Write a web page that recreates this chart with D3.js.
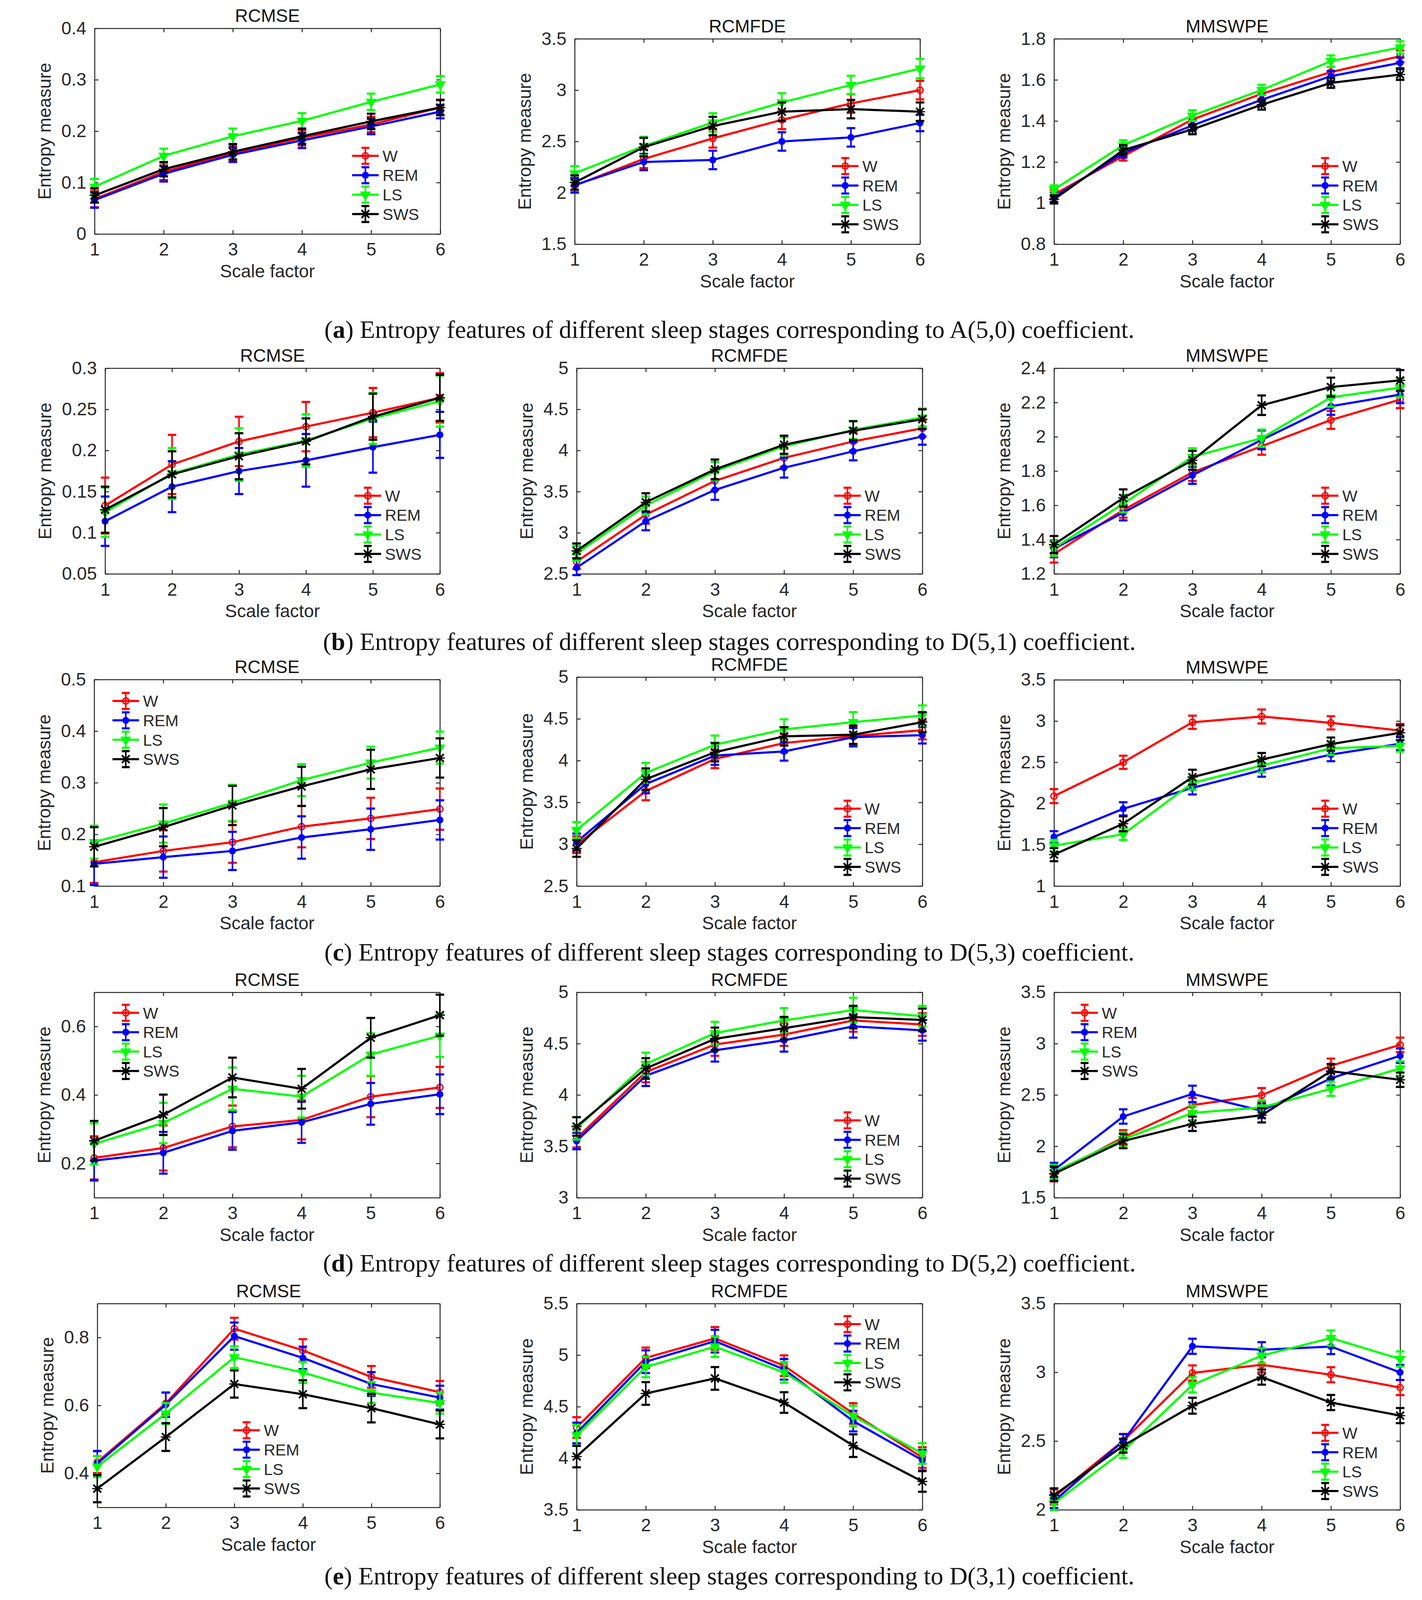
<!DOCTYPE html>
<html>
<head>
<meta charset="utf-8">
<script src="https://cdn.jsdelivr.net/npm/d3@7"></script>
<style>
  html, body { margin: 0; padding: 0; background: #fff; overflow: hidden; }
  svg { display: block; }
</style>
</head>
<body>
<div id="chart"></div>
<script>
// ---- data ----
const stages = ["W", "REM", "LS", "SWS"];
const scaleFactors = [1, 2, 3, 4, 5, 6];
const methods = ["RCMSE", "RCMFDE", "MMSWPE"];
const yLabel = "Entropy measure";
const xLabel = "Scale factor";

const captionLetters = ["a", "b", "c", "d", "e"];
const captionTexts = [
  ") Entropy features of different sleep stages corresponding to A(5,0) coefficient.",
  ") Entropy features of different sleep stages corresponding to D(5,1) coefficient.",
  ") Entropy features of different sleep stages corresponding to D(5,3) coefficient.",
  ") Entropy features of different sleep stages corresponding to D(5,2) coefficient.",
  ") Entropy features of different sleep stages corresponding to D(3,1) coefficient."
];

// rows of series are W, REM, LS, SWS
const a_rcmse_mean = [
  [0.068, 0.121, 0.157, 0.187, 0.213, 0.246],
  [0.066, 0.117, 0.154, 0.182, 0.209, 0.238],
  [0.092, 0.152, 0.190, 0.220, 0.257, 0.291],
  [0.075, 0.126, 0.160, 0.190, 0.219, 0.246]];
const a_rcmse_err = [
  [0.016, 0.016, 0.015, 0.015, 0.015, 0.014],
  [0.015, 0.015, 0.014, 0.015, 0.015, 0.013],
  [0.015, 0.014, 0.015, 0.015, 0.016, 0.016],
  [0.014, 0.014, 0.015, 0.015, 0.015, 0.015]];
const a_rcmse_domain = [0, 0.4];
const a_rcmse_ticks = [0, 0.1, 0.2, 0.3, 0.4];

const a_rcmfde_mean = [
  [2.07, 2.33, 2.53, 2.71, 2.87, 3.00],
  [2.075, 2.30, 2.32, 2.50, 2.54, 2.68],
  [2.19, 2.455, 2.685, 2.88, 3.05, 3.21],
  [2.10, 2.445, 2.65, 2.79, 2.815, 2.79]];
const a_rcmfde_err = [
  [0.07, 0.09, 0.09, 0.09, 0.09, 0.09],
  [0.07, 0.08, 0.09, 0.09, 0.09, 0.08],
  [0.07, 0.09, 0.09, 0.09, 0.09, 0.095],
  [0.07, 0.09, 0.09, 0.09, 0.09, 0.09]];
const a_rcmfde_domain = [1.5, 3.5];
const a_rcmfde_ticks = [1.5, 2, 2.5, 3, 3.5];

const a_mmswpe_mean = [
  [1.042, 1.229, 1.407, 1.532, 1.638, 1.715],
  [1.028, 1.244, 1.378, 1.503, 1.618, 1.683],
  [1.066, 1.282, 1.426, 1.551, 1.691, 1.758],
  [1.018, 1.258, 1.359, 1.479, 1.585, 1.626]];
const a_mmswpe_err = [
  [0.022, 0.022, 0.025, 0.025, 0.025, 0.028],
  [0.022, 0.022, 0.024, 0.025, 0.025, 0.026],
  [0.020, 0.024, 0.026, 0.025, 0.028, 0.030],
  [0.020, 0.024, 0.024, 0.024, 0.024, 0.026]];
const a_mmswpe_domain = [0.8, 1.8];
const a_mmswpe_ticks = [0.8, 1, 1.2, 1.4, 1.6, 1.8];

const b_rcmse_mean = [
  [0.133, 0.183, 0.211, 0.229, 0.246, 0.264],
  [0.114, 0.156, 0.175, 0.188, 0.204, 0.219],
  [0.125, 0.172, 0.195, 0.212, 0.239, 0.260],
  [0.128, 0.171, 0.193, 0.211, 0.241, 0.264]];
const b_rcmse_err = [
  [0.034, 0.036, 0.030, 0.030, 0.030, 0.030],
  [0.030, 0.031, 0.028, 0.032, 0.031, 0.028],
  [0.030, 0.031, 0.032, 0.032, 0.031, 0.031],
  [0.028, 0.028, 0.028, 0.028, 0.028, 0.028]];
const b_rcmse_domain = [0.05, 0.3];
const b_rcmse_ticks = [0.05, 0.1, 0.15, 0.2, 0.25, 0.3];

const b_rcmfde_mean = [
  [2.65, 3.22, 3.63, 3.91, 4.11, 4.27],
  [2.575, 3.14, 3.52, 3.79, 3.99, 4.17],
  [2.75, 3.33, 3.75, 4.05, 4.25, 4.40],
  [2.78, 3.37, 3.77, 4.07, 4.24, 4.38]];
const b_rcmfde_err = [
  [0.09, 0.11, 0.11, 0.11, 0.11, 0.10],
  [0.09, 0.11, 0.12, 0.12, 0.11, 0.10],
  [0.09, 0.11, 0.11, 0.11, 0.11, 0.11],
  [0.09, 0.11, 0.12, 0.11, 0.115, 0.12]];
const b_rcmfde_domain = [2.5, 5];
const b_rcmfde_ticks = [2.5, 3, 3.5, 4, 4.5, 5];

const b_mmswpe_mean = [
  [1.316, 1.573, 1.792, 1.945, 2.098, 2.217],
  [1.347, 1.557, 1.775, 1.982, 2.178, 2.246],
  [1.350, 1.609, 1.883, 1.992, 2.230, 2.287],
  [1.371, 1.643, 1.863, 2.184, 2.290, 2.329]];
const b_mmswpe_err = [
  [0.050, 0.045, 0.050, 0.050, 0.052, 0.050],
  [0.050, 0.045, 0.050, 0.055, 0.050, 0.050],
  [0.045, 0.050, 0.050, 0.050, 0.055, 0.055],
  [0.050, 0.050, 0.055, 0.057, 0.055, 0.060]];
const b_mmswpe_domain = [1.2, 2.4];
const b_mmswpe_ticks = [1.2, 1.4, 1.6, 1.8, 2, 2.2, 2.4];

const c_rcmse_mean = [
  [0.146, 0.168, 0.185, 0.215, 0.231, 0.249],
  [0.143, 0.156, 0.168, 0.194, 0.210, 0.228],
  [0.185, 0.221, 0.261, 0.305, 0.339, 0.368],
  [0.176, 0.214, 0.256, 0.293, 0.326, 0.348]];
const c_rcmse_err = [
  [0.040, 0.040, 0.040, 0.040, 0.040, 0.040],
  [0.041, 0.040, 0.037, 0.041, 0.040, 0.038],
  [0.032, 0.037, 0.035, 0.031, 0.031, 0.031],
  [0.038, 0.037, 0.038, 0.038, 0.038, 0.038]];
const c_rcmse_domain = [0.1, 0.5];
const c_rcmse_ticks = [0.1, 0.2, 0.3, 0.4, 0.5];

const c_rcmfde_mean = [
  [2.995, 3.636, 4.02, 4.21, 4.294, 4.364],
  [3.028, 3.72, 4.06, 4.11, 4.28, 4.305],
  [3.17, 3.853, 4.19, 4.374, 4.46, 4.54],
  [2.95, 3.777, 4.10, 4.29, 4.31, 4.46]];
const c_rcmfde_err = [
  [0.10, 0.11, 0.11, 0.11, 0.11, 0.11],
  [0.10, 0.11, 0.11, 0.11, 0.11, 0.10],
  [0.095, 0.12, 0.11, 0.12, 0.12, 0.12],
  [0.10, 0.13, 0.11, 0.11, 0.11, 0.12]];
const c_rcmfde_domain = [2.5, 5];
const c_rcmfde_ticks = [2.5, 3, 3.5, 4, 4.5, 5];

const c_mmswpe_mean = [
  [2.09, 2.50, 2.985, 3.055, 2.978, 2.885],
  [1.595, 1.936, 2.19, 2.405, 2.593, 2.725],
  [1.49, 1.628, 2.25, 2.46, 2.67, 2.70],
  [1.381, 1.755, 2.32, 2.533, 2.72, 2.857]];
const c_mmswpe_err = [
  [0.085, 0.08, 0.08, 0.085, 0.08, 0.08],
  [0.07, 0.08, 0.08, 0.08, 0.08, 0.08],
  [0.07, 0.07, 0.08, 0.08, 0.08, 0.07],
  [0.08, 0.09, 0.09, 0.08, 0.08, 0.09]];
const c_mmswpe_domain = [1, 3.5];
const c_mmswpe_ticks = [1, 1.5, 2, 2.5, 3, 3.5];

const d_rcmse_mean = [
  [0.216, 0.245, 0.308, 0.327, 0.395, 0.422],
  [0.208, 0.231, 0.295, 0.320, 0.374, 0.402],
  [0.257, 0.318, 0.418, 0.395, 0.518, 0.573],
  [0.266, 0.342, 0.451, 0.418, 0.567, 0.633]];
const d_rcmse_err = [
  [0.063, 0.066, 0.061, 0.057, 0.060, 0.060],
  [0.058, 0.061, 0.055, 0.060, 0.061, 0.058],
  [0.060, 0.059, 0.062, 0.061, 0.062, 0.062],
  [0.058, 0.059, 0.058, 0.058, 0.058, 0.060]];
const d_rcmse_domain = [0.1, 0.7];
const d_rcmse_ticks = [0.2, 0.4, 0.6];

const d_rcmfde_mean = [
  [3.578, 4.223, 4.491, 4.588, 4.726, 4.686],
  [3.551, 4.187, 4.435, 4.532, 4.668, 4.629],
  [3.675, 4.302, 4.602, 4.726, 4.827, 4.767],
  [3.693, 4.258, 4.546, 4.650, 4.758, 4.731]];
const d_rcmfde_err = [
  [0.09, 0.10, 0.11, 0.11, 0.11, 0.11],
  [0.08, 0.10, 0.11, 0.11, 0.11, 0.10],
  [0.11, 0.11, 0.11, 0.12, 0.12, 0.10],
  [0.09, 0.10, 0.11, 0.11, 0.11, 0.11]];
const d_rcmfde_domain = [3, 5];
const d_rcmfde_ticks = [3, 3.5, 4, 4.5, 5];

const d_mmswpe_mean = [
  [1.728, 2.087, 2.401, 2.497, 2.784, 2.988],
  [1.769, 2.290, 2.510, 2.346, 2.661, 2.882],
  [1.751, 2.069, 2.325, 2.378, 2.560, 2.758],
  [1.733, 2.051, 2.219, 2.302, 2.731, 2.648]];
const d_mmswpe_err = [
  [0.07, 0.07, 0.07, 0.07, 0.07, 0.07],
  [0.07, 0.07, 0.08, 0.07, 0.07, 0.07],
  [0.07, 0.07, 0.07, 0.07, 0.07, 0.07],
  [0.07, 0.07, 0.07, 0.07, 0.07, 0.07]];
const d_mmswpe_domain = [1.5, 3.5];
const d_mmswpe_ticks = [1.5, 2, 2.5, 3, 3.5];

const e_rcmse_mean = [
  [0.433, 0.606, 0.826, 0.762, 0.684, 0.639],
  [0.429, 0.602, 0.804, 0.740, 0.663, 0.623],
  [0.420, 0.576, 0.742, 0.697, 0.638, 0.607],
  [0.355, 0.507, 0.663, 0.633, 0.592, 0.544]];
const e_rcmse_err = [
  [0.032, 0.032, 0.032, 0.033, 0.032, 0.033],
  [0.037, 0.036, 0.040, 0.033, 0.035, 0.035],
  [0.031, 0.031, 0.032, 0.031, 0.031, 0.031],
  [0.040, 0.041, 0.040, 0.041, 0.042, 0.041]];
const e_rcmse_domain = [0.3, 0.9];
const e_rcmse_ticks = [0.4, 0.6, 0.8];

const e_rcmfde_mean = [
  [4.298, 4.973, 5.162, 4.897, 4.434, 4.007],
  [4.245, 4.936, 5.135, 4.862, 4.360, 3.981],
  [4.222, 4.885, 5.082, 4.832, 4.409, 4.046],
  [4.016, 4.628, 4.774, 4.540, 4.122, 3.775]];
const e_rcmfde_err = [
  [0.10, 0.10, 0.11, 0.10, 0.10, 0.10],
  [0.10, 0.11, 0.11, 0.10, 0.10, 0.10],
  [0.10, 0.10, 0.10, 0.10, 0.10, 0.10],
  [0.104, 0.11, 0.11, 0.10, 0.11, 0.10]];
const e_rcmfde_domain = [3.5, 5.5];
const e_rcmfde_ticks = [3.5, 4, 4.5, 5, 5.5];

const e_mmswpe_mean = [
  [2.093, 2.502, 2.995, 3.055, 2.982, 2.889],
  [2.063, 2.500, 3.189, 3.164, 3.187, 2.999],
  [2.048, 2.427, 2.909, 3.121, 3.249, 3.097],
  [2.106, 2.466, 2.757, 2.965, 2.780, 2.685]];
const e_mmswpe_err = [
  [0.055, 0.05, 0.055, 0.055, 0.055, 0.055],
  [0.05, 0.05, 0.055, 0.055, 0.055, 0.055],
  [0.05, 0.05, 0.055, 0.055, 0.055, 0.055],
  [0.05, 0.05, 0.058, 0.055, 0.055, 0.055]];
const e_mmswpe_domain = [2, 3.5];
const e_mmswpe_ticks = [2, 2.5, 3, 3.5];

// ---- styles / layout ----
const colors = ["#ff0000", "#0000ff", "#00ff00", "#000000"];
const axisColor = "#262626";
const fontSans = "'Liberation Sans', Arial, Helvetica, sans-serif";
const fontSerif = "'Liberation Serif', 'Times New Roman', serif";
const axisFont = 46;

// the figure is laid out for 3640 x 5197; the browser window may be shorter,
// so every vertical position is squeezed to fit what is really visible
const FIG_W = 3640, FIG_H = 5197;
const viewH = Math.min(FIG_H, window.innerHeight || FIG_H);
const ky = viewH / FIG_H;
const Y = v => v * ky;

const panels = [
  { mean: a_rcmse_mean, err: a_rcmse_err, domain: a_rcmse_domain, ticks: a_rcmse_ticks, title: methods[0], box: [242, 92, 1127, 760], leg: [0.745, 0.62] },
  { mean: a_rcmfde_mean, err: a_rcmfde_err, domain: a_rcmfde_domain, ticks: a_rcmfde_ticks, title: methods[1], box: [1471, 126, 2355, 793], leg: [0.745, 0.62] },
  { mean: a_mmswpe_mean, err: a_mmswpe_err, domain: a_mmswpe_domain, ticks: a_mmswpe_ticks, title: methods[2], box: [2698, 126, 3584, 793], leg: [0.745, 0.62] },

  { mean: b_rcmse_mean, err: b_rcmse_err, domain: b_rcmse_domain, ticks: b_rcmse_ticks, title: methods[0], box: [269, 1196, 1126, 1864], leg: [0.745, 0.62] },
  { mean: b_rcmfde_mean, err: b_rcmfde_err, domain: b_rcmfde_domain, ticks: b_rcmfde_ticks, title: methods[1], box: [1476, 1196, 2361, 1864], leg: [0.745, 0.62] },
  { mean: b_mmswpe_mean, err: b_mmswpe_err, domain: b_mmswpe_domain, ticks: b_mmswpe_ticks, title: methods[2], box: [2698, 1196, 3584, 1864], leg: [0.745, 0.62] },

  { mean: c_rcmse_mean, err: c_rcmse_err, domain: c_rcmse_domain, ticks: c_rcmse_ticks, title: methods[0], box: [241, 2207, 1126, 2878], leg: [0.053, 0.104] },
  { mean: c_rcmfde_mean, err: c_rcmfde_err, domain: c_rcmfde_domain, ticks: c_rcmfde_ticks, title: methods[1], box: [1476, 2199, 2361, 2878], leg: [0.745, 0.63] },
  { mean: c_mmswpe_mean, err: c_mmswpe_err, domain: c_mmswpe_domain, ticks: c_mmswpe_ticks, title: methods[2], box: [2698, 2208, 3584, 2878], leg: [0.745, 0.625] },

  { mean: d_rcmse_mean, err: d_rcmse_err, domain: d_rcmse_domain, ticks: d_rcmse_ticks, title: methods[0], box: [241, 3223, 1126, 3890], leg: [0.053, 0.1] },
  { mean: d_rcmfde_mean, err: d_rcmfde_err, domain: d_rcmfde_domain, ticks: d_rcmfde_ticks, title: methods[1], box: [1476, 3223, 2361, 3890], leg: [0.745, 0.624] },
  { mean: d_mmswpe_mean, err: d_mmswpe_err, domain: d_mmswpe_domain, ticks: d_mmswpe_ticks, title: methods[2], box: [2698, 3223, 3584, 3890], leg: [0.05, 0.1] },

  { mean: e_rcmse_mean, err: e_rcmse_err, domain: e_rcmse_domain, ticks: e_rcmse_ticks, title: methods[0], box: [249, 4234, 1126, 4896], leg: [0.397, 0.622] },
  { mean: e_rcmfde_mean, err: e_rcmfde_err, domain: e_rcmfde_domain, ticks: e_rcmfde_ticks, title: methods[1], box: [1476, 4234, 2361, 4904], leg: [0.745, 0.1] },
  { mean: e_mmswpe_mean, err: e_mmswpe_err, domain: e_mmswpe_domain, ticks: e_mmswpe_ticks, title: methods[2], box: [2698, 4234, 3584, 4904], leg: [0.745, 0.627] }
];

const captionY = [1088, 2101, 3110, 4120, 5136];

const svg = d3.select("#chart")
  .append("svg")
  .attr("width", FIG_W)
  .attr("height", viewH)
  .style("background", "#fff");

const fmt = v => String(+v.toFixed(2));

// marker per stage: W 'o', REM filled dot, LS 'v', SWS '*'
function drawMarker(g, i, cx, cy) {
  const c = colors[i];
  if (i === 0) {
    g.append("circle").attr("cx", cx).attr("cy", cy).attr("r", 8)
      .attr("fill", "none").attr("stroke", c).attr("stroke-width", 3.5);
  } else if (i === 1) {
    g.append("circle").attr("cx", cx).attr("cy", cy).attr("r", 8)
      .attr("fill", c).attr("stroke", c).attr("stroke-width", 2);
  } else if (i === 2) {
    g.append("path")
      .attr("d", d3.symbol(d3.symbolTriangle, 220)())
      .attr("transform", `translate(${cx},${cy}) rotate(180)`)
      .attr("fill", c).attr("stroke", c).attr("stroke-width", 3);
  } else {
    g.append("path")
      .attr("d", d3.symbol(d3.symbolTimes, 260)())
      .attr("transform", `translate(${cx},${cy})`)
      .attr("fill", "none").attr("stroke", c).attr("stroke-width", 4.5);
    g.append("path")
      .attr("d", d3.symbol(d3.symbolPlus, 220)())
      .attr("transform", `translate(${cx},${cy})`)
      .attr("fill", "none").attr("stroke", c).attr("stroke-width", 3);
  }
}

function drawErrorBar(g, color, cx, yTop, yBot, cap, w) {
  g.append("line").attr("x1", cx).attr("x2", cx).attr("y1", yTop).attr("y2", yBot)
    .attr("stroke", color).attr("stroke-width", w);
  [yTop, yBot].forEach(yy => {
    g.append("line").attr("x1", cx - cap / 2).attr("x2", cx + cap / 2).attr("y1", yy).attr("y2", yy)
      .attr("stroke", color).attr("stroke-width", 5.5);
  });
}

function styleAxis(g) {
  g.select(".domain").attr("stroke", axisColor).attr("stroke-width", 2.5);
  g.selectAll(".tick line").attr("stroke", axisColor).attr("stroke-width", 2.5);
  g.selectAll(".tick text")
    .attr("fill", axisColor)
    .style("font-family", fontSans)
    .style("font-size", axisFont + "px");
}

function drawPanel(p) {
  const x0 = p.box[0], x1 = p.box[2];
  const y0 = Y(p.box[1]), y1 = Y(p.box[3]);
  const x = d3.scaleLinear().domain([1, 6]).range([x0, x1]);
  const y = d3.scaleLinear().domain(p.domain).range([y1, y0]);

  const g = svg.append("g");

  // axes (ticks inside, box on)
  g.append("g").attr("transform", `translate(0,${y1})`)
    .call(d3.axisBottom(x).tickValues(scaleFactors).tickSize(-10).tickSizeOuter(0).tickPadding(Y(72) - 34).tickFormat(d3.format("d")))
    .call(styleAxis);
  g.append("g").attr("transform", `translate(0,${y0})`)
    .call(d3.axisTop(x).tickValues(scaleFactors).tickSize(-10).tickSizeOuter(0))
    .call(styleAxis)
    .call(a => a.selectAll(".tick text").remove());
  const left = g.append("g").attr("transform", `translate(${x0},0)`)
    .call(d3.axisLeft(y).tickValues(p.ticks).tickSize(-10).tickSizeOuter(0).tickPadding(21).tickFormat(fmt))
    .call(styleAxis);
  g.append("g").attr("transform", `translate(${x1},0)`)
    .call(d3.axisRight(y).tickValues(p.ticks).tickSize(-10).tickSizeOuter(0))
    .call(styleAxis)
    .call(a => a.selectAll(".tick text").remove());

  // widest y tick label decides where the y label sits
  const maxW = d3.max(left.selectAll(".tick text").nodes(), n => n.getComputedTextLength()) || 70;

  // title and axis labels
  g.append("text")
    .attr("x", (x0 + x1) / 2).attr("y", y0 - Y(41) + 16)
    .attr("text-anchor", "middle")
    .style("font-family", fontSans).style("font-size", axisFont + "px")
    .attr("fill", "#111")
    .text(p.title);
  g.append("text")
    .attr("x", (x0 + x1) / 2).attr("y", y1 + Y(128) + 10)
    .attr("text-anchor", "middle")
    .style("font-family", fontSans).style("font-size", axisFont + "px")
    .attr("fill", axisColor)
    .text(xLabel);
  g.append("text")
    .attr("transform", `translate(${x0 - maxW - 48},${(y0 + y1) / 2}) rotate(-90)`)
    .attr("text-anchor", "middle")
    .style("font-family", fontSans).style("font-size", axisFont + "px")
    .attr("fill", axisColor)
    .text(yLabel);

  // series
  const line = d3.line()
    .x((d, j) => x(scaleFactors[j]))
    .y(d => y(d));

  p.mean.forEach((vals, i) => {
    const sg = g.append("g");
    vals.forEach((v, j) => {
      const e = p.err[i][j];
      drawErrorBar(sg, colors[i], x(scaleFactors[j]), y(v + e), y(v - e), 22, 4);
    });
    sg.append("path")
      .datum(vals)
      .attr("d", line)
      .attr("fill", "none")
      .attr("stroke", colors[i])
      .attr("stroke-width", 5.5)
      .attr("stroke-linejoin", "round");
    vals.forEach((v, j) => drawMarker(sg, i, x(scaleFactors[j]), y(v)));
  });

  // legend
  const lx = x0 + p.leg[0] * (x1 - x0);
  const ly = y0 + p.leg[1] * (y1 - y0);
  const step = Y(63);
  const legend = g.selectAll(".legend")
    .data(stages)
    .enter()
    .append("g")
    .attr("class", "legend")
    .attr("transform", (d, i) => `translate(${lx},${ly + i * step})`);

  legend.each(function (d, i) {
    const lg = d3.select(this);
    drawErrorBar(lg, colors[i], 34, -Y(26), Y(26), 20, 4);
    lg.append("line").attr("x1", 0).attr("x2", 68).attr("y1", 0).attr("y2", 0)
      .attr("stroke", colors[i]).attr("stroke-width", 5.5);
    drawMarker(lg, i, 34, 0);
    lg.append("text")
      .attr("x", 78).attr("y", 0).attr("dy", "0.36em")
      .style("font-family", fontSans).style("font-size", "41px")
      .attr("fill", axisColor)
      .text(d);
  });
}

panels.forEach(drawPanel);

// captions, fitted to the measured line width
captionLetters.forEach((letter, k) => {
  const t = svg.append("text")
    .attr("x", 1867)
    .attr("y", Y(captionY[k] - 18) + 22)
    .attr("text-anchor", "middle")
    .style("font-family", fontSerif)
    .style("font-size", "64px")
    .attr("fill", "#111");
  t.append("tspan").text("(");
  t.append("tspan").style("font-weight", "bold").text(letter);
  t.append("tspan").text(captionTexts[k]);
  const len = t.node().getComputedTextLength();
  if (len > 0) t.style("font-size", Math.min(64, 64 * 2560 / len).toFixed(1) + "px");
});
</script>
</body>
</html>
